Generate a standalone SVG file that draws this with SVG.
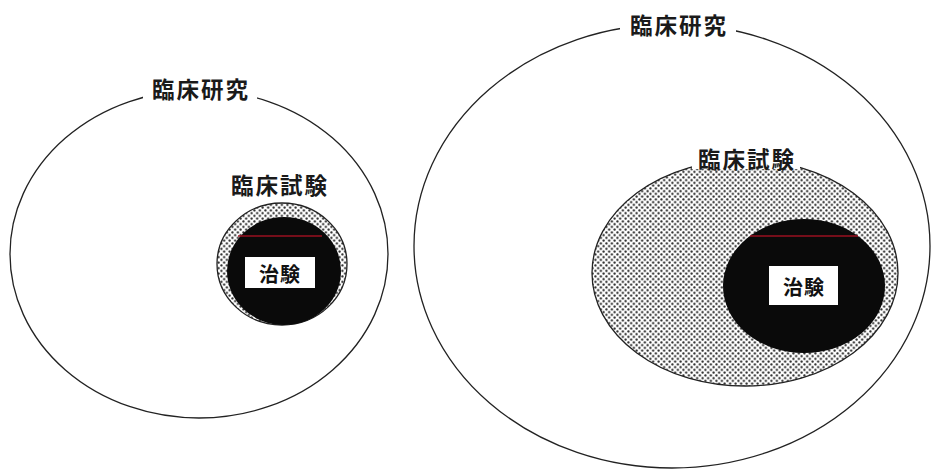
<svg xmlns="http://www.w3.org/2000/svg" width="934" height="473" viewBox="0 0 934 473">
<defs>
<pattern id="dots" patternUnits="userSpaceOnUse" width="5.5" height="5.5">
<rect width="5.5" height="5.5" fill="#ffffff"/>
<circle cx="1.4" cy="1.4" r="1.1" fill="#222"/>
<circle cx="4.15" cy="4.15" r="1.1" fill="#222"/>
</pattern>
</defs>
<style>
.line{fill:none;stroke:#222;stroke-width:1.3}
.dotted{fill:url(#dots);stroke:#222;stroke-width:1.3}
.black{fill:#0a0a0a;stroke:none}
.red{stroke:#9a1020;stroke-width:1.5}
.box{fill:#fff;stroke:none}
.gap{fill:#fff;stroke:none}
.lbl{font-family:"Noto Sans CJK JP","Noto Sans CJK SC",sans-serif;font-size:22.5px;fill:#1a1a1a;text-anchor:middle;dominant-baseline:central;letter-spacing:2px;font-weight:bold}
.in{font-family:"Noto Sans CJK JP","Noto Sans CJK SC",sans-serif;font-size:20px;fill:#111;text-anchor:middle;dominant-baseline:central;letter-spacing:1px;font-weight:bold}
</style>
<rect width="934" height="473" fill="#fff"/>

<g id="left-rinsho-kenkyu">
<ellipse class="line" cx="199" cy="254" rx="189" ry="164"/>
<rect class="gap" x="143" y="76" width="114" height="26"/>
<text class="lbl" x="201" y="88">臨床研究</text>
</g>

<g id="left-rinsho-shiken">
<ellipse class="dotted" cx="282" cy="264" rx="65" ry="61"/>
<text class="lbl" x="280" y="184">臨床試験</text>
</g>

<g id="left-chiken">
<ellipse class="black" cx="284" cy="271" rx="57" ry="54"/>
<line class="red" x1="238" y1="236" x2="322" y2="236"/>
<rect class="box" x="245" y="257" width="70" height="31"/>
<text class="in" x="280" y="273">治験</text>
</g>

<g id="right-rinsho-kenkyu">
<ellipse class="line" cx="672" cy="246" rx="258" ry="222"/>
<rect class="gap" x="620" y="10" width="116" height="28"/>
<text class="lbl" x="679" y="24">臨床研究</text>
</g>

<g id="right-rinsho-shiken">
<ellipse class="dotted" cx="745" cy="273" rx="153" ry="113"/>
<rect class="gap" x="692" y="145" width="108" height="24"/>
<text class="lbl" x="747" y="158">臨床試験</text>
</g>

<g id="right-chiken">
<ellipse class="black" cx="804" cy="286" rx="81" ry="67"/>
<line class="red" x1="750" y1="236" x2="858" y2="236"/>
<rect class="box" x="769" y="266" width="69" height="39"/>
<text class="in" x="804" y="286">治験</text>
</g>

<g id="connectors"></g>
</svg>
